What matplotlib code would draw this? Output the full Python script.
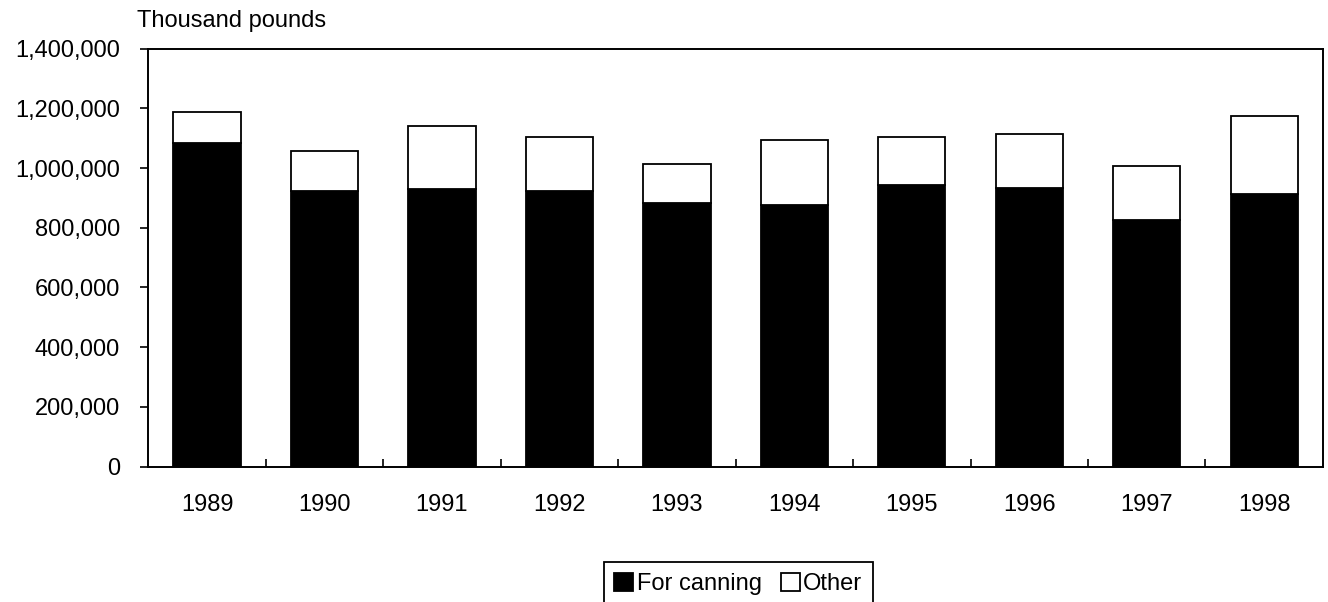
import matplotlib.pyplot as plt
import numpy as np
from matplotlib.ticker import FuncFormatter, FixedLocator

years = ["1989", "1990", "1991", "1992", "1993", "1994", "1995", "1996", "1997", "1998"]
# thousand pounds
for_canning = [1083000, 923000, 929000, 924000, 883000, 875000, 942000, 935000, 826000, 912000]
other = [105000, 135000, 211000, 179000, 132000, 220000, 162000, 179000, 182000, 263000]

plt.rcParams['font.family'] = ['Liberation Sans', 'DejaVu Sans']
FONT_SIZE = 17

fig = plt.figure(figsize=(13.28, 6.02), dpi=100)
ax = fig.add_axes([0.1117, 0.225, 0.8845, 0.694])

x = np.arange(len(years))
width = 0.573
b1 = ax.bar(x, for_canning, width, color="black", edgecolor="black", linewidth=1.3, label="For canning")
b2 = ax.bar(x, other, width, bottom=for_canning, color="white", edgecolor="black", linewidth=1.3, label="Other")

ax.set_xlim(-0.5, len(years) - 0.5)
ax.set_ylim(0, 1400000)
ax.set_yticks(np.arange(0, 1400001, 200000))
ax.yaxis.set_major_formatter(FuncFormatter(lambda v, _: f"{int(v):,}"))
ax.tick_params(axis="y", direction="out", length=5.5, width=1.2, pad=15, labelsize=FONT_SIZE)

ax.set_xticks(x)
ax.set_xticklabels(years)
ax.tick_params(axis="x", which="major", length=0, pad=20, labelsize=FONT_SIZE)
ax.xaxis.set_minor_locator(FixedLocator(np.arange(0.5, len(years) - 0.5, 1)))
ax.tick_params(axis="x", which="minor", direction="in", length=5.5, width=1.2)

for s in ax.spines.values():
    s.set_linewidth(1.4)
    s.set_color("black")

fig.text(0.103, 1 - 10 / 602, "Thousand pounds", fontsize=FONT_SIZE, ha="left", va="top")

leg = fig.legend(handles=[b1, b2], loc="upper center", bbox_to_anchor=(0.556, 1 - 562 / 602),
                 ncol=2, fontsize=FONT_SIZE, frameon=True, fancybox=False, framealpha=1,
                 edgecolor="black", handlelength=0.8, handleheight=0.8, handletextpad=0.15,
                 columnspacing=0.8, borderpad=0.45, borderaxespad=0)
leg.get_frame().set_linewidth(1.3)

fig.savefig("out.png", dpi=100)
